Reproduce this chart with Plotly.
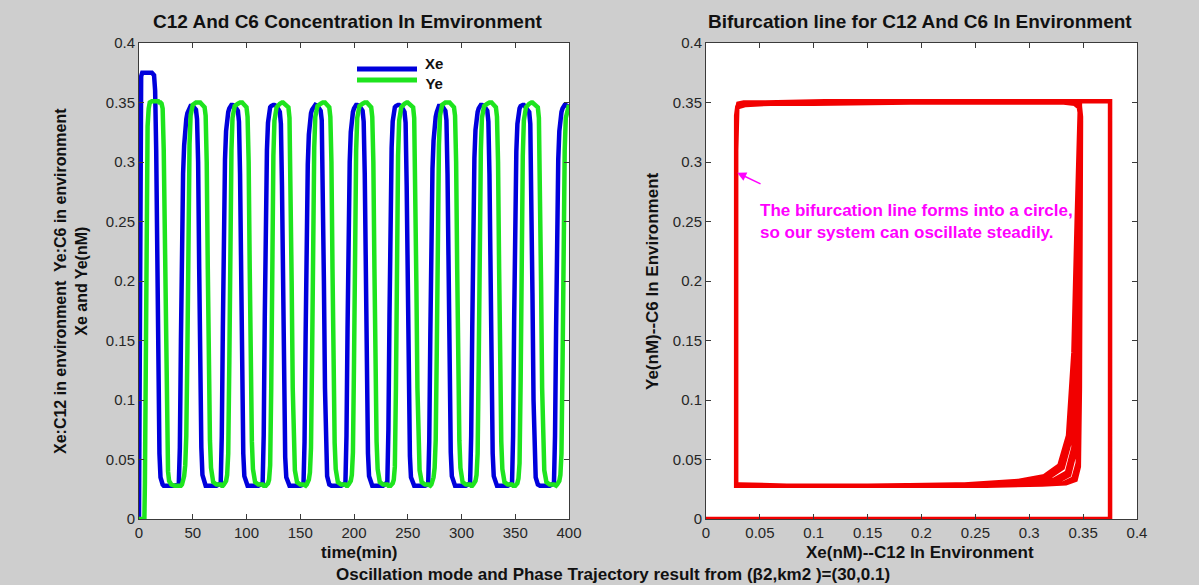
import plotly.graph_objects as go

# ---------------- data ----------------
time_min = [
    0, 0.5, 1, 1.5, 2, 3, 5, 5.5, 6, 6.5, 7, 8, 9, 10, 12, 14, 15, 16, 17, 18, 19, 20, 21, 22, 23, 24, 25, 26, 27, 28, 30, 33,
    37, 38, 39, 40, 41, 42, 43, 44, 45, 46, 47, 48, 50, 53, 54, 55, 56, 57, 58, 59, 61, 62, 63, 64, 65, 66, 67, 69, 72,
    76, 77, 78, 79, 80, 81, 82, 83, 84, 85, 86, 87, 89, 92, 93, 94, 95, 96, 97, 98, 100, 101, 102, 103, 104, 105, 106, 108, 111,
    115, 116, 117, 118, 119, 120, 121, 122, 123, 124, 125, 126, 128, 131, 132, 133, 134, 135, 136, 137, 139, 140, 141, 142, 143, 144, 145, 147, 150,
    153, 154, 155, 156, 157, 158, 159, 160, 161, 162, 163, 164, 166, 169, 170, 171, 172, 173, 174, 175, 177, 178, 179, 180, 181, 182, 183, 185, 188,
    192, 193, 194, 195, 196, 197, 198, 199, 200, 201, 202, 203, 205, 208, 209, 210, 211, 212, 213, 214, 216, 217, 218, 219, 220, 221, 222, 224, 227,
    231, 232, 233, 234, 235, 236, 237, 238, 239, 240, 241, 242, 244, 247, 248, 249, 250, 251, 252, 253, 255, 256, 257, 258, 259, 260, 261, 263, 266,
    269, 270, 271, 272, 273, 274, 275, 276, 277, 278, 279, 280, 282, 285, 286, 287, 288, 289, 290, 291, 293, 294, 295, 296, 297, 298, 299, 301, 304,
    308, 309, 310, 311, 312, 313, 314, 315, 316, 317, 318, 319, 321, 324, 325, 326, 327, 328, 329, 330, 332, 333, 334, 335, 336, 337, 338, 340, 343,
    347, 348, 349, 350, 351, 352, 353, 354, 355, 356, 357, 358, 360, 363, 364, 365, 366, 367, 368, 369, 371, 372, 373, 374, 375, 376, 377, 379, 382,
    386, 387, 388, 389, 390, 391, 392, 393, 394, 395, 396, 397, 399, 400,
]

xe_nM = [
    0, 0.15, 0.33, 0.366, 0.372, 0.375, 0.375, 0.375, 0.375, 0.375, 0.375, 0.375, 0.375, 0.375, 0.375, 0.373, 0.36, 0.31, 0.21, 0.11, 0.055, 0.035, 0.030, 0.029, 0.028, 0.028, 0.028, 0.028, 0.028, 0.028, 0.028, 0.028,
    0.029, 0.06, 0.15, 0.24, 0.290, 0.314, 0.328, 0.336, 0.341, 0.344, 0.346, 0.347, 0.347, 0.344, 0.336, 0.30, 0.21, 0.12, 0.06, 0.037, 0.029, 0.028, 0.028, 0.028, 0.028, 0.028, 0.028, 0.028, 0.028,
    0.030, 0.07, 0.16, 0.25, 0.302, 0.326, 0.337, 0.342, 0.345, 0.347, 0.348, 0.348, 0.347, 0.343, 0.334, 0.29, 0.20, 0.11, 0.055, 0.036, 0.029, 0.028, 0.028, 0.028, 0.028, 0.028, 0.028, 0.028, 0.028,
    0.030, 0.07, 0.17, 0.26, 0.310, 0.333, 0.342, 0.346, 0.347, 0.348, 0.348, 0.348, 0.347, 0.342, 0.332, 0.28, 0.19, 0.10, 0.052, 0.035, 0.029, 0.028, 0.028, 0.028, 0.028, 0.028, 0.028, 0.028, 0.028,
    0.029, 0.065, 0.155, 0.245, 0.298, 0.323, 0.335, 0.341, 0.344, 0.346, 0.347, 0.348, 0.347, 0.343, 0.335, 0.29, 0.20, 0.11, 0.056, 0.036, 0.029, 0.028, 0.028, 0.028, 0.028, 0.028, 0.028, 0.028, 0.028,
    0.030, 0.07, 0.16, 0.25, 0.300, 0.325, 0.337, 0.342, 0.345, 0.347, 0.348, 0.348, 0.347, 0.343, 0.334, 0.29, 0.20, 0.11, 0.055, 0.036, 0.029, 0.028, 0.028, 0.028, 0.028, 0.028, 0.028, 0.028, 0.028,
    0.031, 0.075, 0.17, 0.26, 0.312, 0.334, 0.343, 0.346, 0.347, 0.348, 0.348, 0.348, 0.347, 0.342, 0.333, 0.28, 0.19, 0.10, 0.053, 0.035, 0.029, 0.028, 0.028, 0.028, 0.028, 0.028, 0.028, 0.028, 0.028,
    0.029, 0.065, 0.155, 0.245, 0.294, 0.318, 0.331, 0.338, 0.342, 0.345, 0.347, 0.347, 0.347, 0.343, 0.335, 0.29, 0.20, 0.11, 0.056, 0.036, 0.029, 0.028, 0.028, 0.028, 0.028, 0.028, 0.028, 0.028, 0.028,
    0.030, 0.07, 0.16, 0.25, 0.303, 0.327, 0.337, 0.342, 0.345, 0.347, 0.348, 0.348, 0.347, 0.343, 0.334, 0.29, 0.20, 0.11, 0.055, 0.036, 0.029, 0.028, 0.028, 0.028, 0.028, 0.028, 0.028, 0.028, 0.028,
    0.030, 0.07, 0.17, 0.26, 0.309, 0.332, 0.341, 0.345, 0.347, 0.348, 0.348, 0.348, 0.346, 0.342, 0.332, 0.28, 0.19, 0.10, 0.052, 0.035, 0.029, 0.028, 0.028, 0.028, 0.028, 0.028, 0.028, 0.028, 0.028,
    0.030, 0.07, 0.16, 0.25, 0.302, 0.326, 0.337, 0.342, 0.345, 0.347, 0.348, 0.348, 0.347, 0.346,
]

ye_nM = [
    0, 0, 0, 0, 0, 0, 0, 0.03, 0.10, 0.20, 0.28, 0.33, 0.345, 0.350, 0.351, 0.351, 0.351, 0.351, 0.351, 0.351, 0.350, 0.350, 0.349, 0.345, 0.31, 0.22, 0.13, 0.07, 0.04, 0.032, 0.029, 0.028,
    0.028, 0.028, 0.028, 0.029, 0.032, 0.036, 0.045, 0.070, 0.14, 0.25, 0.315, 0.339, 0.348, 0.350, 0.350, 0.350, 0.350, 0.350, 0.349, 0.348, 0.346, 0.339, 0.30, 0.21, 0.12, 0.066, 0.043, 0.031, 0.029,
    0.029, 0.028, 0.028, 0.029, 0.030, 0.032, 0.037, 0.055, 0.13, 0.24, 0.31, 0.337, 0.347, 0.349, 0.350, 0.350, 0.350, 0.350, 0.349, 0.348, 0.346, 0.338, 0.30, 0.21, 0.12, 0.065, 0.042, 0.031, 0.029,
    0.029, 0.028, 0.028, 0.028, 0.029, 0.030, 0.033, 0.045, 0.11, 0.23, 0.305, 0.335, 0.346, 0.349, 0.350, 0.350, 0.350, 0.349, 0.349, 0.348, 0.346, 0.337, 0.29, 0.20, 0.11, 0.062, 0.041, 0.031, 0.029,
    0.029, 0.028, 0.028, 0.029, 0.031, 0.033, 0.039, 0.060, 0.135, 0.245, 0.312, 0.338, 0.347, 0.349, 0.350, 0.350, 0.350, 0.350, 0.349, 0.348, 0.346, 0.338, 0.30, 0.21, 0.12, 0.064, 0.042, 0.031, 0.029,
    0.029, 0.028, 0.028, 0.029, 0.030, 0.032, 0.037, 0.056, 0.13, 0.24, 0.31, 0.337, 0.347, 0.349, 0.350, 0.350, 0.350, 0.350, 0.349, 0.348, 0.346, 0.338, 0.30, 0.21, 0.12, 0.065, 0.042, 0.031, 0.029,
    0.029, 0.028, 0.028, 0.028, 0.029, 0.030, 0.033, 0.044, 0.11, 0.23, 0.305, 0.335, 0.346, 0.349, 0.350, 0.350, 0.350, 0.349, 0.349, 0.348, 0.346, 0.337, 0.29, 0.20, 0.11, 0.062, 0.041, 0.031, 0.029,
    0.029, 0.028, 0.028, 0.029, 0.031, 0.035, 0.043, 0.066, 0.14, 0.25, 0.314, 0.339, 0.348, 0.350, 0.350, 0.350, 0.350, 0.350, 0.349, 0.348, 0.346, 0.339, 0.30, 0.21, 0.12, 0.066, 0.043, 0.031, 0.029,
    0.029, 0.028, 0.028, 0.029, 0.030, 0.032, 0.037, 0.055, 0.13, 0.24, 0.31, 0.337, 0.347, 0.349, 0.350, 0.350, 0.350, 0.350, 0.349, 0.348, 0.346, 0.338, 0.30, 0.21, 0.12, 0.065, 0.042, 0.031, 0.029,
    0.029, 0.028, 0.028, 0.028, 0.029, 0.030, 0.034, 0.047, 0.115, 0.23, 0.305, 0.335, 0.346, 0.349, 0.350, 0.350, 0.350, 0.349, 0.349, 0.348, 0.346, 0.337, 0.29, 0.20, 0.11, 0.062, 0.041, 0.031, 0.029,
    0.029, 0.028, 0.028, 0.029, 0.030, 0.032, 0.037, 0.055, 0.13, 0.24, 0.31, 0.337, 0.347, 0.348,
]

time_ticks = [0, 50, 100, 150, 200, 250, 300, 350, 400]
conc_ticks = [0, 0.05, 0.1, 0.15, 0.2, 0.25, 0.3, 0.35, 0.4]
series_names = ["Xe", "Ye"]

# ---------------- style ----------------
W, H = 1199, 585
BLUE = "#0000dc"
GREEN = "#1ee41e"
RED = "#f20000"
MAGENTA = "#ff00ff"
BG = "#cecece"
AXC = "#3a3a3a"
FONT = "Liberation Sans, Arial, sans-serif"


def px_x(p):
    return p / W


def px_y(p):
    return (H - p) / H


fig = go.Figure()
fig.add_trace(go.Scatter(x=time_min, y=xe_nM, mode="lines", name=series_names[0],
                         line=dict(color=BLUE, width=4.5), xaxis="x", yaxis="y"))
fig.add_trace(go.Scatter(x=time_min, y=ye_nM, mode="lines", name=series_names[1],
                         line=dict(color=GREEN, width=4.5), xaxis="x", yaxis="y"))
fig.add_trace(go.Scatter(x=xe_nM, y=ye_nM, mode="lines", name="phase",
                         line=dict(color=RED, width=4.5), xaxis="x2", yaxis="y2"))

ax_common = dict(showgrid=False, zeroline=False, showline=True, linecolor=AXC, linewidth=1,
                 mirror="ticks", ticks="inside", ticklen=5, tickcolor=AXC, tickwidth=1,
                 automargin=False,
                 tickfont=dict(family=FONT, size=15, color="#262626"))

ydom = [px_y(519), px_y(43)]
fig.update_layout(
    width=W, height=H, autosize=False, margin=dict(l=0, r=0, t=0, b=0, pad=0, autoexpand=False),
    paper_bgcolor=BG, plot_bgcolor="white", showlegend=False,
    font=dict(family=FONT, color="#111"),
    xaxis=dict(domain=[px_x(139), px_x(569)], range=[0, 400], tickvals=time_ticks,
               anchor="y", **ax_common),
    yaxis=dict(domain=ydom, range=[0, 0.4], tickvals=conc_ticks, anchor="x", **ax_common),
    xaxis2=dict(domain=[px_x(706), px_x(1137)], range=[0, 0.4], tickvals=conc_ticks,
                anchor="y2", **ax_common),
    yaxis2=dict(domain=ydom, range=[0, 0.4], tickvals=conc_ticks, anchor="x2", **ax_common),
)

bold = lambda s: "<b>" + s + "</b>"
ann = []


def label(text, x, y, size=16, angle=0, color="#111", xanchor="center", align="center"):
    ann.append(dict(text=bold(text), x=px_x(x), y=px_y(y), xref="paper", yref="paper",
                    showarrow=False, textangle=angle, xanchor=xanchor, yanchor="middle",
                    align=align, font=dict(family=FONT, size=size, color=color)))


label("C12 And C6 Concentration In Emvironment", 348, 22, size=19)
label("Bifurcation line for C12 And C6 In Environment", 920, 22, size=19)
label("time(min)", 359, 552, size=17)
label("Xe(nM)--C12 In Environment", 920, 552, size=17)
label("Oscillation mode and Phase Trajectory result from (\u03b22,km2 )=(30,0.1)", 613, 574, size=17)
label("Xe:C12 in environment  Ye:C6 in environment<br>Xe and Ye(nM)", 71, 281, size=16, angle=-90)
label("Ye(nM)--C6 In Environment", 652, 281, size=17, angle=-90)
label("The bifurcation line forms into a circle,<br>so our system can oscillate steadily.",
      758, 221, size=17, color=MAGENTA, xanchor="left", align="left")

# legend (manual, MATLAB style): one two-line text block
label(series_names[0] + "<br>" + series_names[1], 434, 73, size=15)

# arrow pointing at the limit cycle
ann.append(dict(x=0.029, y=0.291, xref="x2", yref="y2", ax=0.052, ay=0.281,
                axref="x2", ayref="y2", text="", showarrow=True, arrowhead=2,
                arrowsize=1.2, arrowwidth=1.5, arrowcolor=MAGENTA))
fig.update_layout(annotations=ann)

fig.update_layout(shapes=[
    dict(type="line", xref="paper", yref="paper", x0=px_x(357), x1=px_x(417),
         y0=px_y(69), y1=px_y(69), line=dict(color=BLUE, width=5)),
    dict(type="line", xref="paper", yref="paper", x0=px_x(357), x1=px_x(417),
         y0=px_y(80), y1=px_y(80), line=dict(color=GREEN, width=5)),
])

fig.write_html(
    "out.html",
    config={"responsive": False},
    post_script=(
        "document.documentElement.style.margin='0';"
        "document.body.style.margin='0';document.body.style.padding='0';"
        "document.body.style.background='" + BG + "';"
        "document.body.style.overflow='hidden';"
    ),
)
